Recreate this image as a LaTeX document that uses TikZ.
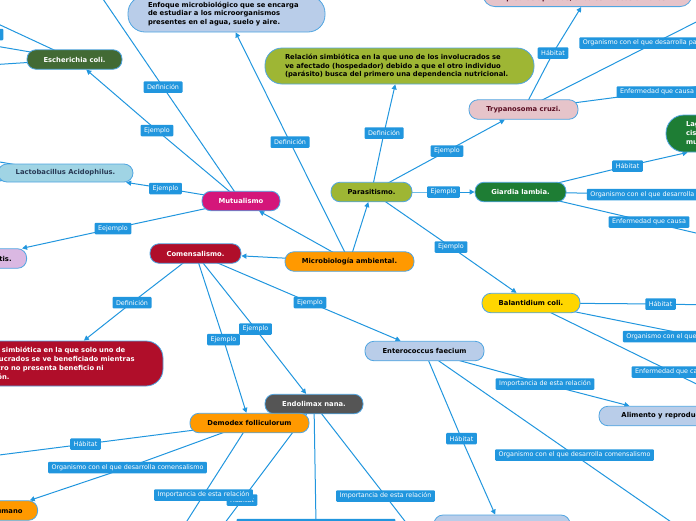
\documentclass[tikz,border=0pt]{standalone}
\usepackage{fontspec}
\setmainfont{DejaVu Sans}
\usetikzlibrary{arrows.meta}
\pgfdeclarelayer{background}
\pgfsetlayers{background,main}

\definecolor{linkblue}{RGB}{33,150,222}
\definecolor{nodeedge}{RGB}{80,165,225}
\definecolor{orangeA}{RGB}{255,153,0}
\definecolor{oliveA}{RGB}{158,182,52}
\definecolor{magentaA}{RGB}{212,22,122}
\definecolor{redA}{RGB}{176,14,42}
\definecolor{pinkA}{RGB}{230,196,202}
\definecolor{maroonA}{RGB}{90,14,34}
\definecolor{greenA}{RGB}{30,125,52}
\definecolor{greenB}{RGB}{66,106,52}
\definecolor{yellowA}{RGB}{255,214,0}
\definecolor{paleblue}{RGB}{185,205,233}
\definecolor{cyanA}{RGB}{160,212,228}
\definecolor{cyantext}{RGB}{40,58,85}
\definecolor{lavender}{RGB}{218,184,226}
\definecolor{grayA}{RGB}{85,85,85}

\begin{document}
\begin{tikzpicture}[x=1pt, y=-1pt,
    topic/.style={draw=nodeedge, line width=0.8pt, rounded corners=9pt, minimum height=19.5pt,
        inner sep=2pt, font=\fontsize{6.8}{8}\selectfont\bfseries},
    defbox/.style={draw=nodeedge, line width=0.8pt, rounded corners=17pt, inner xsep=20pt,
        align=left, font=\fontsize{6.8}{8.8}\selectfont\bfseries},
    lbl/.style={fill=linkblue, text=white, rounded corners=1pt, inner xsep=3.5pt, inner ysep=1.5pt,
        minimum height=11.5pt, font=\fontsize{6.4}{7.5}\selectfont},
    link/.style={draw=linkblue, line width=1pt},
    arr/.style={link, -{Triangle[length=5pt,width=5pt]}}]
    \useasboundingbox (0,0) rectangle (696,520);

    % Central topic and relations
    \node[topic, fill=orangeA, minimum width=129pt] (micro) at (349.5,261.5) {Microbiología ambiental.};
    \node[topic, fill=oliveA, minimum width=81pt] (para) at (371.5,192) {Parasitismo.};
    \node[topic, fill=magentaA, text=white, minimum width=78pt] (mutu) at (241,201) {Mutualismo};
    \node[topic, fill=redA, text=white, minimum width=91pt] (come) at (195.5,253.5) {Comensalismo.};

    % Definitions
    \node[defbox, fill=paleblue, text width=157pt, minimum height=36pt] (enfo) at (226.5,14)
        {Enfoque microbiológico que se encarga\\de estudiar a los microorganismos\\presentes en el agua, suelo y aire.};
    \node[defbox, fill=oliveA, text width=229pt, minimum height=36pt] (pdef) at (399.5,66)
        {Relación simbiótica en la que uno de los involucrados se\\ve afectado (hospedador) debido a que el otro individuo\\(parásito) busca del primero una dependencia nutricional.};
    \node[defbox, fill=redA, text=white, text width=176pt, minimum height=45pt] (cdef) at (55,363.5)
        {Relación simbiótica en la que solo uno de\\los involucrados se ve beneficiado mientras\\que el otro no presenta beneficio ni\\afectación.};

    % Parasites
    \node[topic, fill=pinkA, text=maroonA, minimum width=109pt] (tryp) at (523.5,109.5) {Trypanosoma cruzi.};
    \node[topic, fill=pinkA, text=maroonA, minimum width=209pt, anchor=south, inner ysep=3pt,
        align=center, rounded corners=12pt] (ptop) at (587.5,7) {\mbox{}\\piedras apiladas, árboles huecos o muros.};
    \node[topic, fill=greenA, text=white, minimum width=91pt] (giar) at (520.5,192) {Giardia lambia.};
    \node[defbox, fill=greenA, text=white, text width=170pt, minimum height=37pt, rounded corners=18pt,
        font=\fontsize{6.8}{9}\selectfont\bfseries] (gcirc) at (771,133.5) {Lagos,\\cisternas,\\muros.};
    \node[topic, fill=yellowA, minimum width=98pt] (bala) at (531,303) {Balantidium coli.};

    % Commensals
    \node[topic, fill=paleblue, minimum width=119pt] (ente) at (424.5,351) {Enterococcus faecium};
    \node[topic, fill=paleblue, minimum width=139pt] (alim) at (668.5,416) {Alimento y reproducción};
    \node[topic, fill=paleblue, minimum width=136pt, minimum height=30pt] (bnode) at (502,530) {};
    \node[topic, fill=grayA, text=white, minimum width=98pt] (endo) at (314,404) {Endolimax nana.};
    \node[topic, fill=orangeA, minimum width=119pt] (demo) at (249.5,423) {Demodex folliculorum};
    \node[topic, fill=orangeA, anchor=east, inner xsep=15pt] (ser) at (38,510.5) {Ser humano};

    % Mutualists
    \node[topic, fill=greenB, text=white, minimum width=95pt] (esch) at (74.5,59.5) {Escherichia coli.};
    \node[topic, fill=cyanA, text=cyantext, minimum width=135pt, minimum height=18pt] (lacto) at (65.5,173) {Lactobacillus Acidophilus.};
    \node[topic, fill=lavender, anchor=east, inner xsep=15pt] (lacti) at (27,258.5) {Lactococcus lactis.};

    % Link labels
    \node[lbl] (lDefEnf) at (290,142) {Definición};
    \node[lbl] (lDefMut) at (163,87) {Definición};
    \node[lbl] (lEjEsch) at (157,130.5) {Ejemplo};
    \node[lbl] (lEjLac) at (165.5,188.5) {Ejemplo};
    \node[lbl] (lEejLc) at (113,228.5) {Eejemplo};
    \node[lbl] (lDefCom) at (132,302.5) {Definición};
    \node[lbl] (lEjDem) at (223.5,339.5) {Ejemplo};
    \node[lbl] (lEjEnd) at (255.5,329) {Ejemplo};
    \node[lbl] (lEjEnt) at (310,302.5) {Ejemplo};
    \node[lbl] (lDefPar) at (384,133) {Definición};
    \node[lbl] (lEjTry) at (447,151) {Ejemplo};
    \node[lbl] (lEjGia) at (443.5,192) {Ejemplo};
    \node[lbl] (lEjBal) at (451,247) {Ejemplo};
    \node[lbl] (lHabTry) at (553,53) {Hábitat};
    \node[lbl] (lOrgTry) at (654.5,43) {Organismo con el que desarrolla parasitismo};
    \node[lbl] (lEnfTry) at (657,92) {Enfermedad que causa};
    \node[lbl] (lHabGia) at (627.5,166) {Hábitat};
    \node[lbl] (lOrgGia) at (662,194.5) {Organismo con el que desarrolla parasitismo};
    \node[lbl] (lEnfGia) at (649,222) {Enfermedad que causa};
    \node[lbl] (lHabBal) at (660.5,304) {Hábitat};
    \node[lbl] (lOrgBal) at (698,336.5) {Organismo con el que desarrolla parasitismo};
    \node[lbl] (lEnfBal) at (672,372) {Enfermedad que causa};
    \node[lbl] (lHabEnt) at (461.5,438.5) {Hábitat};
    \node[lbl] (lImpEnt) at (545,384) {Importancia de esta relación};
    \node[lbl] (lOrgEnt) at (574.5,455) {Organismo con el que desarrolla comensalismo};
    \node[lbl] (lHabDem) at (85.5,444) {Hábitat};
    \node[lbl] (lOrgDem) at (127.5,467.5) {Organismo con el que desarrolla comensalismo};
    \node[lbl] (lHabEnd) at (242,500) {Hábitat};
    \node[lbl] (lImpDem) at (203.5,495) {Importancia de esta relación};
    \node[lbl] (lOrgEnd) at (316,524.5) {Organismo con el que desarrolla comensalismo};
    \node[lbl] (lImpEnd) at (385.5,496) {Importancia de esta relación};
    \node[lbl] (lOrgEsc) at (-72,34.5) {Organismo con el que desarrolla mutualismo};
    \node[lbl] (lImpEsc) at (-50,67.5) {Importancia de esta relación};

    % Free ends beyond the page
    \coordinate (offMutDef) at (90,-20);
    \coordinate (offEscA) at (-60,-3);
    \coordinate (offEscOrg) at (-200,11);
    \coordinate (offEscImp) at (-120,72);
    \coordinate (offLac1) at (-60,152);
    \coordinate (offLac2) at (-60,188);
    \coordinate (offTryOrg) at (760,-10);
    \coordinate (offTryEnf) at (760,78);
    \coordinate (offGiaOrg) at (760,196);
    \coordinate (offGiaEnf) at (760,248);
    \coordinate (offBalHab) at (760,306);
    \coordinate (offBalOrg) at (760,349);
    \coordinate (offBalEnf) at (760,415);
    \coordinate (offEntOrg) at (700,542);
    \coordinate (offDemHab) at (-40,460);
    \coordinate (offDemImp) at (180,532);
    \coordinate (offEndHab) at (218,532);
    \coordinate (offEndOrg) at (316,560);
    \coordinate (offEndImp) at (411,529);

    % Connectors
    \begin{pgfonlayer}{background}
        \draw[arr] (micro.center) -- (lDefEnf.center) -- (enfo);
        \draw[arr] (micro.center) -- (para);
        \draw[arr] (micro.center) -- (mutu);
        \draw[arr] (micro.center) -- (come);

        \draw[arr] (para.center) -- (lDefPar.center) -- (pdef);
        \draw[arr] (para.center) -- (lEjTry.center) -- (tryp);
        \draw[arr] (para.center) -- (lEjGia.center) -- (giar);
        \draw[arr] (para.center) -- (lEjBal.center) -- (bala);

        \draw[arr] (mutu.center) -- (lDefMut.center) -- (offMutDef);
        \draw[arr] (mutu.center) -- (lEjEsch.center) -- (esch);
        \draw[arr] (mutu.center) -- (lEjLac.center) -- (lacto);
        \draw[arr] (mutu.center) -- (lEejLc.center) -- (lacti);

        \draw[arr] (come.center) -- (lDefCom.center) -- (cdef);
        \draw[arr] (come.center) -- (lEjDem.center) -- (demo);
        \draw[arr] (come.center) -- (lEjEnd.center) -- (endo);
        \draw[arr] (come.center) -- (lEjEnt.center) -- (ente);

        \draw[arr] (tryp.center) -- (lHabTry.center) -- (ptop);
        \draw[link] (tryp.center) -- (lOrgTry.center) -- (offTryOrg);
        \draw[link] (tryp.center) -- (lEnfTry.center) -- (offTryEnf);
        \draw[arr] (giar.center) -- (lHabGia.center) -- (gcirc);
        \draw[link] (giar.center) -- (lOrgGia.center) -- (offGiaOrg);
        \draw[link] (giar.center) -- (lEnfGia.center) -- (offGiaEnf);
        \draw[link] (bala.center) -- (lHabBal.center) -- (offBalHab);
        \draw[link] (bala.center) -- (lOrgBal.center) -- (offBalOrg);
        \draw[link] (bala.center) -- (lEnfBal.center) -- (offBalEnf);

        \draw[arr] (ente.center) -- (lHabEnt.center) -- (bnode);
        \draw[arr] (ente.center) -- (lImpEnt.center) -- (alim);
        \draw[link] (ente.center) -- (lOrgEnt.center) -- (offEntOrg);
        \draw[link] (demo.center) -- (lHabDem.center) -- (offDemHab);
        \draw[arr] (demo.center) -- (lOrgDem.center) -- (ser);
        \draw[link] (demo.center) -- (lImpDem.center) -- (offDemImp);
        \draw[link] (endo.center) -- (lHabEnd.center) -- (offEndHab);
        \draw[link] (endo.center) -- (lOrgEnd.center) -- (offEndOrg);
        \draw[link] (endo.center) -- (lImpEnd.center) -- (offEndImp);

        \draw[link] (esch.center) -- (offEscA);
        \draw[link] (esch.center) -- (lOrgEsc.center) -- (offEscOrg);
        \draw[link] (esch.center) -- (lImpEsc.center) -- (offEscImp);
        \draw[link] (lacto.center) -- (offLac1);
        \draw[link] (lacto.center) -- (offLac2);
    \end{pgfonlayer}
\end{tikzpicture}
\end{document}
